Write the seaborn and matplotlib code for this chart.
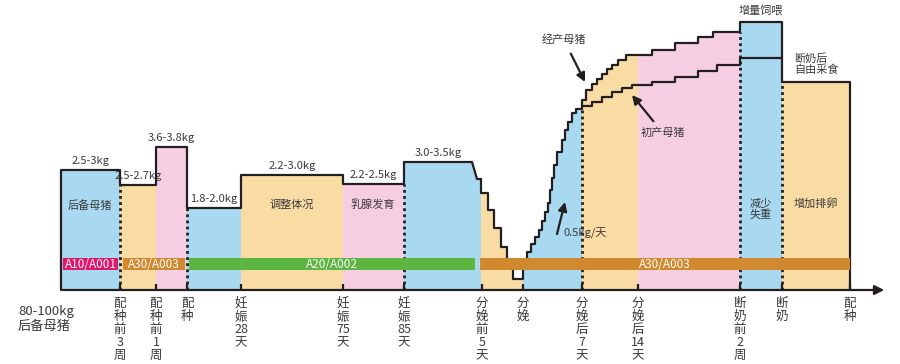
import re
import matplotlib
matplotlib.use("Agg")
import matplotlib.pyplot as plt
from matplotlib.patches import Polygon
import seaborn as sns

# ---- data (x = timeline position, y = feed level above baseline) ----
stage_edges = [61, 120, 156, 187, 241, 343, 404, 472]
stage_levels = [120, 105, 143, 82, 115, 106, 128]
stage_amounts = ["2.5-3kg", "2.5-2.7kg", "3.6-3.8kg", "1.8-2.0kg", "2.2-3.0kg", "2.2-2.5kg", "3.0-3.5kg"]

# taper before farrowing
taper_edges = [477, 481, 488, 494, 501, 507, 513, 523]
taper_levels = [111, 97, 80, 62, 43, 22, 11]

# lactation ramp, 0.5kg/day
ramp_edges = [523, 527, 531, 535, 539, 542, 545, 548, 550, 552, 554, 557, 562, 565, 568, 572, 576, 582]
ramp_levels = [25, 38, 46, 53, 60, 69, 78, 87, 100, 112, 125, 138, 150, 160, 168, 177, 181]

# multiparous sows (upper line)
multi_edges = [582, 586, 592, 597, 602, 607, 612, 618, 626, 652, 675, 698, 713, 740]
multi_levels = [190, 200, 206, 211, 216, 221, 225, 230, 235, 240, 247, 253, 258]

# first parity sows (lower line)
first_edges = [582, 592, 602, 612, 622, 632, 652, 675, 698, 717, 740, 782]
first_levels = [184, 188, 193, 198, 202, 205, 208, 213, 219, 225, 232]

# weaning stages
end_edges = [740, 782, 850]
end_levels = [268, 208]

zone_edges = [61, 120, 156, 187, 241, 343, 404, 481, 523, 582, 638, 740, 782, 850]
zone_kind = ["b", "o", "p", "b", "o", "p", "b", "o", "b", "o", "p", "b", "o"]

divider_x = [120, 187, 404, 582, 740, 782]
divider_top = [105, 82, 106, 181, 258, 208]

feed_bands = ["A10/A001", "A30/A003", "A20/A002", "A30/A003"]
band_start = [63, 123, 189, 480]
band_end = [118, 185, 475, 850]

tick_x = [120, 156, 187, 241, 343, 404, 482, 523, 582, 638, 740, 782, 850]
tick_labels = ["配种前3周", "配种前1周", "配种", "妊娠28天", "妊娠75天", "妊娠85天",
               "分娩前5天", "分娩", "分娩后7天", "分娩后14天", "断奶前2周", "断奶", "配种"]

fill_colors = {"b": "#a8d9f1", "o": "#f9dca3", "p": "#f6cee2"}
band_colors = ["#e3156b", "#d0892e", "#5cb540", "#d0892e"]
ink = "#231f20"
txt = "#3a3a3a"


def steps(edges, levels):
    xs, ys = [], []
    for i, lv in enumerate(levels):
        xs += [edges[i], edges[i + 1]]
        ys += [lv, lv]
    return xs, ys


sns.set_theme(style="white")
plt.rcParams["font.family"] = ["Noto Sans CJK SC", "DejaVu Sans"]

fig = plt.figure(figsize=(9, 3.64), dpi=100)
ax = fig.add_axes([0, 0, 1, 1])
ax.set_xlim(0, 900)
ax.set_ylim(-74, 290)
ax.axis("off")

# full outline of the feeding curve
px, py = [stage_edges[0]], [0]
for e, l in [(stage_edges, stage_levels), (taper_edges, taper_levels), (ramp_edges, ramp_levels),
             (multi_edges, multi_levels), (end_edges, end_levels)]:
    sx, sy = steps(e, l)
    px += sx
    py += sy
px.append(end_edges[-1])
py.append(0)

clip = Polygon(list(zip(px, py)), closed=True, transform=ax.transData)
for i, k in enumerate(zone_kind):
    r = ax.axvspan(zone_edges[i], zone_edges[i + 1], color=fill_colors[k], lw=0, zorder=1)
    r.set_clip_path(clip)

sns.lineplot(x=px, y=py, sort=False, estimator=None, color=ink, lw=1.6, ax=ax, zorder=4)
fx, fy = steps(first_edges, first_levels)
sns.lineplot(x=fx, y=fy, sort=False, estimator=None, color=ink, lw=1.6, ax=ax, zorder=4)

ax.vlines(divider_x, 0, divider_top, colors=ink, linestyles=(0, (1.0, 1.2)), lw=2, zorder=3)
ax.vlines(tick_x, 0, 6, colors=ink, lw=1.6, zorder=4)

# feed bands
for name, s, e, c in zip(feed_bands, band_start, band_end, band_colors):
    ax.barh(26, e - s, left=s, height=12, color=c, lw=0, zorder=5)
    ax.text((s + e) / 2, 26, name, color="white", fontsize=8.5, ha="center", va="center", zorder=6)

# timeline arrow
ax.annotate("", xy=(887, 0), xytext=(60, 0),
            arrowprops=dict(arrowstyle="-|>", color=ink, lw=1.6, mutation_scale=14), zorder=6)

# feed amounts above each stage
for i, lab in enumerate(stage_amounts):
    cx = (stage_edges[i] + stage_edges[i + 1]) / 2
    ax.text(cx, stage_levels[i] + 4, lab, fontsize=8, color=txt, ha="center", va="bottom")

# stage names
ax.text(90, 85, "后备母猪", fontsize=8, color=txt, ha="center", va="center")
ax.text(292, 85, "调整体况", fontsize=8, color=txt, ha="center", va="center")
ax.text(373, 85, "乳腺发育", fontsize=8, color=txt, ha="center", va="center")
ax.text(761, 81, "减少\n失重", fontsize=8, color=txt, ha="center", va="center", linespacing=1.1)
ax.text(816, 87, "增加排卵", fontsize=8, color=txt, ha="center", va="center")
ax.text(761, 280, "增量饲喂", fontsize=8, color=txt, ha="center", va="center")
ax.text(794, 226, "断奶后\n自由采食", fontsize=8, color=txt, ha="left", va="center", linespacing=1.1)

# annotations with arrows
arrow = dict(arrowstyle="-|>", color=ink, lw=1.6, mutation_scale=13)
ax.annotate("经产母猪", xy=(585, 208), xytext=(564, 250), fontsize=8, color=txt,
            ha="center", va="center", arrowprops=dict(arrow, shrinkA=4, shrinkB=0))
ax.annotate("初产母猪", xy=(632, 195), xytext=(663, 157), fontsize=8, color=txt,
            ha="center", va="center", arrowprops=dict(arrow, shrinkA=3, shrinkB=0))
ax.annotate("", xy=(565, 88), xytext=(557, 56), arrowprops=dict(arrow, shrinkA=0, shrinkB=0))
ax.text(563, 57, "0.5kg/天", fontsize=8, color=txt, ha="left", va="center")

# vertical tick labels, one character per line
for x, lab in zip(tick_x, tick_labels):
    for j, ch in enumerate(re.findall(r"\d+|.", lab)):
        ax.text(x, -7 - 13 * j, ch, fontsize=9, color=txt, ha="center", va="top")

ax.text(18, -29, "80-100kg\n后备母猪", fontsize=9.5, color=txt, ha="left", va="center", linespacing=1.15)

fig.savefig("out.png", dpi=100)
